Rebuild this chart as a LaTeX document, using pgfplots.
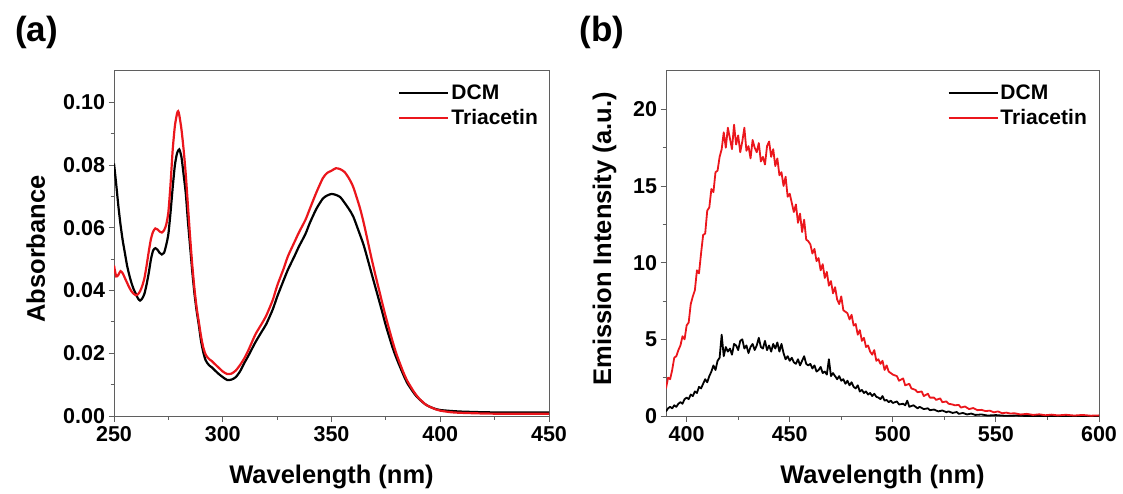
\documentclass[border=0pt]{standalone}
\usepackage{pgfplots}
\pgfplotsset{compat=1.18}
\usepackage{fontspec}
\setmainfont{Liberation Sans}
\definecolor{myred}{RGB}{235,22,28}
\definecolor{axgray}{RGB}{95,95,95}
\pgfplotsset{
  myaxis/.style={
    scale only axis, anchor=south west,
    axis line style={axgray, line width=1pt},
    every tick/.style={axgray, line width=1pt},
    major tick length=5.5pt, minor tick length=3.5pt,
    tick align=outside, xtick pos=bottom, ytick pos=left,
    /pgf/number format/assume math mode=true,
    tick label style={font=\fontsize{21.5}{23}\selectfont\bfseries, text=black},
    xticklabel style={yshift=-1pt},
    label style={font=\fontsize{25.5}{28}\selectfont\bfseries},
    legend style={draw=none, fill=none, font=\fontsize{21}{23}\selectfont\bfseries,
      inner sep=0pt, row sep=4pt, anchor=north west, nodes={inner sep=2pt}},
    legend cell align=left,
    legend image code/.code={\draw[##1] (0pt,0pt) -- (49pt,0pt);},
  }
}
\pgfplotstableread{
x y
250 0.0805
251 0.074
252 0.067
253 0.061
254 0.056
255 0.052
256 0.048
257 0.045
258 0.0425
259 0.0405
260 0.039
261 0.0375
262 0.0368
263 0.0375
264 0.039
265 0.042
266 0.0457
267 0.050
268 0.0528
269 0.0535
270 0.053
271 0.052
272 0.0515
273 0.052
274 0.0545
275 0.058
276 0.065
277 0.073
278 0.080
279 0.0838
280 0.085
281 0.0826
282 0.077
283 0.071
284 0.062
285 0.054
286 0.046
287 0.039
288 0.0335
289 0.029
290 0.024
291 0.0205
292 0.018
293 0.0168
294 0.016
295 0.0155
296 0.0148
298 0.0135
300 0.0124
302 0.0115
304 0.0116
306 0.0124
308 0.0143
310 0.017
312 0.0195
315 0.0235
318 0.027
320 0.0293
323 0.034
325 0.038
328 0.0433
330 0.0467
333 0.051
335 0.054
338 0.058
340 0.0615
343 0.066
346 0.0693
348 0.0703
350 0.0708
352 0.0705
354 0.0698
356 0.068
358 0.066
360 0.0636
363 0.058
365 0.054
368 0.0465
370 0.0415
373 0.034
375 0.0288
378 0.022
380 0.0182
383 0.0132
385 0.0103
388 0.0072
390 0.0056
393 0.0038
395 0.003
398 0.0022
400 0.0019
405 0.0016
410 0.0014
420 0.0012
430 0.0011
440 0.0011
450 0.0011
}\absDCM
\pgfplotstableread{
x y
250 0.048
251 0.0445
252 0.045
253 0.0462
254 0.0455
255 0.044
256 0.0425
257 0.041
258 0.0398
259 0.039
260 0.0385
261 0.0388
262 0.0398
263 0.0415
264 0.044
265 0.048
266 0.0525
267 0.0565
268 0.0588
269 0.0598
270 0.0595
271 0.0588
272 0.0585
273 0.0592
274 0.061
275 0.065
276 0.074
277 0.085
278 0.0925
279 0.0965
279.5 0.0972
280 0.096
281 0.0915
282 0.085
283 0.077
284 0.067
285 0.057
286 0.048
287 0.0405
288 0.0345
289 0.030
290 0.0255
291 0.022
292 0.0198
293 0.0187
294 0.018
295 0.0175
296 0.0168
298 0.0155
300 0.0142
302 0.0134
304 0.0135
306 0.0145
308 0.0163
310 0.0185
312 0.0213
315 0.026
318 0.0295
320 0.032
323 0.037
325 0.0415
328 0.047
330 0.051
333 0.0555
335 0.0585
338 0.0625
340 0.066
343 0.0712
346 0.0758
348 0.0775
350 0.0782
352 0.079
354 0.0787
356 0.0778
358 0.0758
360 0.073
363 0.0665
365 0.061
368 0.0515
370 0.0455
373 0.037
375 0.0315
378 0.024
380 0.0195
383 0.014
385 0.011
388 0.0076
390 0.0058
393 0.0038
395 0.003
398 0.0021
400 0.0017
405 0.0012
410 0.001
420 0.0008
430 0.0007
440 0.0007
450 0.0007
}\absTri
\pgfplotstableread{
x y
390 0.3
391 0.5
392 0.6
393 0.5
394 0.7
395 0.6
396 0.8
397 0.9
398 0.8
399 1.1
400 1.2
401 1.1
402 1.4
403 1.3
404 1.6
405 1.5
406 1.9
407 1.8
408 2.1
409 2.4
410 2.2
411 2.6
412 2.9
413 3.3
414 3.0
415 3.6
416 3.8
417 5.3
418 3.9
419 4.5
420 4.2
421 4.4
422 4.0
423 4.7
424 4.6
425 4.3
426 4.9
427 5.0
428 4.4
429 4.6
430 4.1
431 4.5
432 4.7
433 4.3
434 4.6
435 5.1
436 4.5
437 4.4
438 4.9
439 4.3
440 4.6
441 4.2
442 4.7
443 4.4
444 4.8
445 4.2
446 4.7
447 4.1
448 3.7
449 3.9
450 3.6
451 3.8
452 3.5
453 3.4
454 3.7
455 3.3
456 3.6
457 3.9
458 3.4
459 3.3
460 3.4
461 3.1
462 3.3
463 2.9
464 3.0
465 3.2
466 2.8
467 2.9
468 2.7
469 3.7
470 2.6
471 2.8
472 2.6
473 2.4
474 2.6
475 2.3
476 2.4
477 2.1
478 2.3
479 2.0
480 2.2
481 1.9
482 1.8
483 2.0
484 1.6
485 1.7
486 1.5
487 1.6
488 1.4
489 1.5
490 1.3
491 1.45
492 1.25
493 1.2
494 1.1
495 1.3
496 1.0
497 1.05
498 0.9
499 1.0
500 0.85
502 0.95
503 0.75
505 0.8
506 0.7
507 1.0
508 0.6
510 0.7
512 0.5
513 0.6
515 0.45
517 0.5
518 0.38
520 0.42
522 0.3
524 0.36
526 0.25
527 0.3
529 0.2
531 0.26
532 0.14
534 0.2
536 0.1
538 0.16
540 0.07
543 0.1
546 0.03
550 0.06
555 0.01
560 0.03
565 0.0
570 0.01
580 0.0
600 0.0
}\emDCM
\pgfplotstableread{
x y
390 1.8
391 2.5
392 2.4
393 3.0
394 3.8
395 3.9
396 4.3
397 4.6
398 5.2
399 5.0
400 5.9
401 6.1
402 7.3
403 7.8
404 8.2
405 9.5
406 9.3
407 10.6
408 11.8
409 11.9
410 13.4
411 13.6
412 14.8
413 14.6
414 15.9
415 16.0
416 16.9
417 17.4
418 18.5
419 17.5
420 18.8
421 18.1
422 17.4
423 19.0
424 17.7
425 18.3
426 17.2
427 17.9
428 18.8
429 17.3
430 17.6
431 16.8
432 18.0
433 17.5
434 17.2
435 17.8
436 16.6
437 16.9
438 16.4
439 17.6
440 17.9
441 16.9
442 17.4
443 16.3
444 16.8
445 15.7
446 15.9
447 15.0
448 15.6
449 14.3
450 14.5
451 13.9
452 13.3
453 13.8
454 12.6
455 13.2
456 12.0
457 12.8
458 11.5
459 11.4
460 11.2
461 10.6
462 10.9
463 10.1
464 10.3
465 9.5
466 9.9
467 9.0
468 9.4
469 8.5
470 8.8
471 8.0
472 8.4
473 7.6
474 7.3
475 7.8
476 6.9
477 6.8
478 6.7
479 6.3
480 6.6
481 5.9
482 6.0
483 5.3
484 5.6
485 4.9
486 5.1
487 4.5
488 4.6
489 4.2
490 4.0
491 4.3
492 3.6
493 3.7
494 3.4
495 3.6
496 3.0
497 3.3
498 2.9
499 2.8
500 2.7
502 2.6
503 2.3
505 2.45
506 2.0
508 2.1
509 1.8
511 1.7
512 1.55
514 1.6
515 1.3
517 1.45
518 1.2
520 1.2
521 1.05
523 1.15
524 0.9
526 0.95
527 0.8
529 0.75
530 0.7
532 0.72
533 0.55
535 0.62
537 0.45
539 0.52
541 0.38
543 0.4
545 0.32
547 0.35
549 0.24
551 0.3
553 0.18
555 0.22
557 0.16
559 0.18
562 0.1
565 0.14
568 0.07
571 0.11
574 0.05
577 0.09
580 0.04
584 0.08
588 0.03
592 0.07
596 0.02
600 0.04
}\emTri
\begin{document}
\begin{tikzpicture}
\useasboundingbox (0pt,0pt) rectangle (1123pt,493pt);
\node[font=\fontsize{35}{38}\selectfont\bfseries] at (36.5pt,461pt) {(a)};
\node[font=\fontsize{35}{38}\selectfont\bfseries] at (602pt,461pt) {(b)};
\begin{axis}[myaxis, at={(114pt,77pt)}, width=435pt, height=345pt,
  xmin=250, xmax=450, ymin=0, ymax=0.11,
  xtick={250,300,350,400,450}, minor x tick num=1,
  ytick={0,0.02,0.04,0.06,0.08,0.1}, minor y tick num=1,
  scaled y ticks=false,
  yticklabel style={/pgf/number format/.cd, fixed, fixed zerofill, precision=2},
  xlabel={Wavelength (nm)}, ylabel={Absorbance},
  x label style={at={(axis description cs:0.5,-0.177)}, anchor=center},
  y label style={at={(axis description cs:-0.180,0.484)}, anchor=center},
  legend style={at={(0.653,0.965)}}]
\addplot[black, line width=2.2pt, smooth, tension=0.4] table[x=x,y=y] {\absDCM};
\addlegendentry{DCM}
\addplot[myred, line width=2.2pt, smooth, tension=0.4] table[x=x,y=y] {\absTri};
\addlegendentry{Triacetin}
\end{axis}
\begin{axis}[myaxis, at={(666pt,77pt)}, width=433pt, height=345pt,
  xmin=390, xmax=600, ymin=0, ymax=22.5,
  xtick={400,450,500,550,600}, minor x tick num=1,
  ytick={0,5,10,15,20}, minor y tick num=1,
  xlabel={Wavelength (nm)}, ylabel={Emission Intensity (a.u.)},
  x label style={at={(axis description cs:0.5,-0.177)}, anchor=center},
  y label style={at={(axis description cs:-0.142,0.513)}, anchor=center},
  legend style={at={(0.650,0.965)}}]
\addplot[black, line width=1.8pt, line join=round] table[x=x,y=y] {\emDCM};
\addlegendentry{DCM}
\addplot[myred, line width=1.8pt, line join=round] table[x=x,y=y] {\emTri};
\addlegendentry{Triacetin}
\end{axis}
\end{tikzpicture}
\end{document}
